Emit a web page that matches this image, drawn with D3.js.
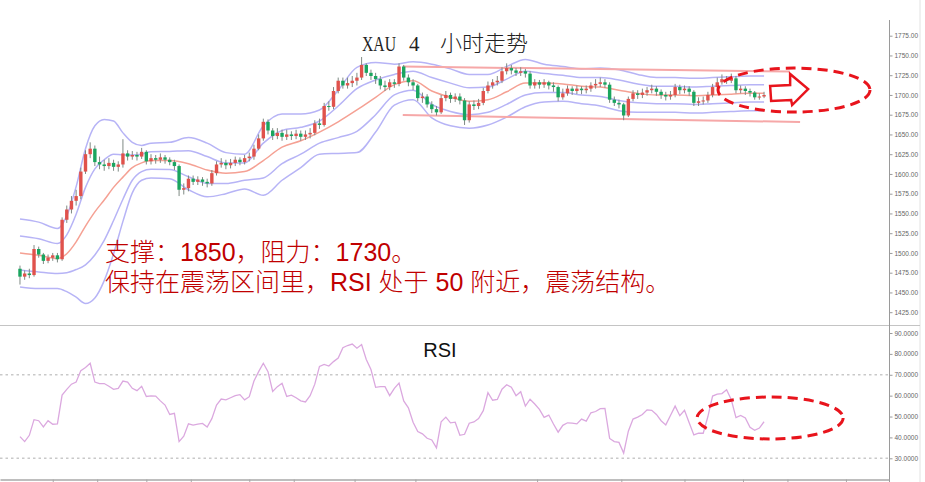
<!DOCTYPE html>
<html><head><meta charset="utf-8">
<script src="https://cdn.jsdelivr.net/npm/d3@7"></script>
<style>body{margin:0;background:#fff}svg{display:block}</style>
</head><body><svg id="c" width="925" height="482"></svg>
<script>
// ---------------- data ----------------
const titleText = ["XAU", "4", "小时走势"];
const rsiLabel = "RSI";
const noteLines = ["支撑：1850，阻力：1730。", "保持在震荡区间里，RSI 处于 50 附近，震荡结构。"];
const firstOpen = 1480;
const closes = [1470,1474,1472,1505,1498,1490,1494,1497,1492,1542,
1555,1566,1572,1603,1625,1632,1615,1612,1610,1614,
1609,1612,1626,1622,1624,1622,1628,1616,1620,1618,
1621,1618,1615,1610,1580,1582,1594,1590,1593,1590,
1588,1601,1612,1614,1611,1614,1618,1615,1620,1622,
1632,1645,1666,1655,1648,1652,1647,1650,1648,1651,
1647,1650,1652,1664,1662,1686,1685,1705,1718,1712,
1715,1718,1722,1738,1728,1724,1720,1712,1710,1716,
1714,1736,1722,1716,1712,1696,1698,1688,1682,1678,
1696,1700,1695,1698,1693,1668,1688,1686,1690,1705,
1712,1716,1718,1730,1734,1731,1728,1730,1727,1712,
1716,1713,1716,1712,1710,1697,1702,1708,1705,1708,
1706,1708,1712,1714,1716,1713,1694,1690,1688,1674,
1695,1702,1700,1703,1706,1708,1704,1700,1698,1700,
1710,1706,1708,1704,1690,1692,1693,1700,1710,1716,
1720,1718,1721,1706,1708,1705,1703,1697,1698,1700];
const highs = [1484,1478,1480,1510,1508,1500,1498,1500,1500,1545,
1560,1572,1580,1608,1630,1640,1636,1622,1618,1620,
1618,1616,1644,1630,1629,1628,1633,1630,1625,1624,
1626,1624,1621,1618,1612,1588,1598,1598,1597,1596,
1594,1605,1616,1620,1618,1619,1622,1621,1624,1627,
1637,1650,1670,1669,1658,1658,1656,1656,1654,1656,
1655,1655,1658,1668,1670,1690,1692,1710,1722,1722,
1722,1724,1728,1748,1740,1732,1728,1724,1718,1720,
1720,1740,1738,1726,1720,1714,1703,1701,1692,1686,
1700,1705,1703,1702,1702,1696,1692,1693,1695,1709,
1717,1720,1724,1735,1740,1738,1734,1735,1733,1730,
1720,1719,1720,1718,1716,1712,1708,1712,1711,1712,
1711,1712,1716,1720,1722,1720,1716,1698,1694,1690,
1698,1706,1706,1708,1710,1713,1711,1707,1704,1705,
1714,1713,1712,1711,1706,1697,1698,1704,1714,1722,
1726,1724,1727,1724,1712,1711,1708,1705,1702,1704];
const lows = [1460,1466,1468,1470,1494,1486,1487,1490,1488,1490,
1538,1550,1560,1568,1600,1620,1610,1606,1604,1606,
1604,1603,1608,1617,1618,1617,1619,1612,1612,1613,
1614,1613,1611,1605,1572,1574,1578,1586,1586,1585,
1583,1585,1598,1608,1606,1607,1610,1611,1612,1616,
1618,1630,1642,1650,1643,1644,1642,1643,1643,1644,
1642,1643,1645,1649,1657,1660,1680,1682,1702,1708,
1708,1710,1712,1719,1724,1719,1714,1707,1705,1706,
1709,1711,1718,1711,1706,1692,1690,1684,1677,1674,
1676,1692,1690,1691,1688,1662,1665,1681,1682,1687,
1702,1708,1712,1715,1726,1726,1724,1724,1722,1708,
1708,1708,1709,1707,1704,1692,1694,1699,1700,1701,
1701,1702,1704,1708,1710,1709,1690,1686,1683,1668,
1672,1692,1695,1696,1699,1702,1699,1695,1693,1694,
1697,1701,1702,1699,1686,1686,1688,1690,1697,1707,
1713,1714,1715,1702,1702,1700,1698,1694,1694,1696];
const rsi = [40.4,38.0,41,48.5,48,45,48,46.3,46.5,60.3,
63,65.5,66.5,72,73.5,75.5,66.5,65.8,65.8,64.5,
63,63.5,67,66.5,63.5,62.4,64.5,59.6,59.9,59.8,
57.5,55.5,51,51.5,38.0,40.6,46.5,45.9,46.4,46.7,
45,49,55.5,58.4,58,59,60,60.5,58,59.5,
67,71.5,75.5,71.5,62,64.3,65.9,59.6,60.2,59,
57.5,57,60,65.5,74,75,74.2,76.3,78,83,
84,84.7,82.7,84.5,77.3,72.5,64,64.3,64.3,60,
63.5,66,57.5,54.2,47.3,42.8,41.7,39.6,38.8,35,
47.5,49.7,47,47.3,41,41.5,46.8,47.4,49,52.8,
61.4,57.8,58.2,63.1,65.2,64,60,61.9,55,58.3,
56,53.4,49.6,50.7,46.4,42.5,45.8,47,46.8,46.5,
48.8,47.8,51.8,52.4,53.8,53.9,39.5,38,37.6,32.5,
43,48.8,49.7,51,53.2,53,51,48,46,50.5,
55,50.4,53,47,41.2,42,42,50,59.8,60.7,
61,62.8,58,49.5,50.5,49.3,44.8,43.4,44.5,47.5];
// Bollinger band (middle line and one standard deviation) read at sampled bars
const bandIdx = [0,4,8,10,12,14,16,18,20,22,24,26,28,32,36,40,44,48,52,56,60,64,68,72,76,80,84,88,92,96,100,104,108,112,116,120,124,128,132,136,140,144,148,152,156,159];
const bandMid = [1500,1497,1493,1499,1514,1534,1552,1567,1583,1596,1608,1614,1617,1617,1613,1605,1601,1603,1617,1634,1642,1653,1666,1681,1697,1713,1718,1705,1697,1692,1694,1704,1715,1715,1714,1711,1710,1706,1702,1700,1700,1699,1700,1701,1702,1702];
const bandSd = [21.5,21,19,24,35,49,54.5,51,42,28,16,11,11,11.5,16.5,17,13,11,22,21,17,14,20,27,22,13,12,17,18,17,16,16,15,12,11,11,12,13,12,11,11,11,11,11,11,11];
// channel lines [startIndex, startPrice, endIndex, endPrice]
const channelUpper = [81.8, 1736, 164.5, 1729.7];
const channelLower = [81.8, 1674.6, 166.7, 1665.7];
const priceTicks = [1425,1450,1475,1500,1525,1550,1575,1600,1625,1650,1675,1700,1725,1750,1775];
const rsiTicks = [30,40,50,60,70,80,90];
const rsiGuides = [70,30];
const dateTicks = [7,16.5,27,36.5,49,58.5,71.5,84.5,110.5,128.5,142,154.5,164,176.5];
// highlight marks: [index, value]
const priceHighlight = [165.4, 1706.2];
const arrowAnchor = [160.3, 1707.5];
const rsiHighlight = [160.3, 49.3];

// ---------------- layout ----------------
const svg = d3.select('#c');
const x = d3.scaleLinear().domain([-4.27, 185.7]).range([0, 889]);
const y = d3.scaleLinear().domain([1425, 1775]).range([312.2, 35.7]);
const yr = d3.scaleLinear().domain([30, 90]).range([458.3, 333]);
const axisX = 889;
const opens = closes.map((c, i) => i === 0 ? firstOpen : closes[i - 1]);

// frame
svg.append('line').attr('x1', 920).attr('x2', 920).attr('y1', 0).attr('y2', 482).attr('stroke', '#e2e2e2');
svg.append('line').attr('x1', 0).attr('x2', 920).attr('y1', 325.5).attr('y2', 325.5).attr('stroke', '#c4c4c4');
svg.append('line').attr('x1', axisX + 0.5).attr('x2', axisX + 0.5).attr('y1', 20).attr('y2', 482).attr('stroke', '#9a9a9a');

// axes
function styleAxis(g) {
  g.select('.domain').remove();
  g.selectAll('line').attr('stroke', '#9a9a9a');
  g.selectAll('text').attr('fill', '#666').style('font-family', 'Liberation Sans, Arial, sans-serif').style('font-size', '6.5px');
}
svg.append('g').attr('transform', `translate(${axisX + 0.5},0)`)
  .call(d3.axisRight(y).tickValues(priceTicks).tickFormat(d3.format('.2f')).tickSize(3).tickPadding(2))
  .call(styleAxis);
svg.append('g').attr('transform', `translate(${axisX + 0.5},0)`)
  .call(d3.axisRight(yr).tickValues(rsiTicks).tickFormat(d3.format('.4f')).tickSize(3).tickPadding(2))
  .call(styleAxis);
const xa = svg.append('g').attr('transform', 'translate(0,479.5)')
  .call(d3.axisBottom(x).tickValues(dateTicks).tickFormat('').tickSize(4).tickSizeOuter(0));
xa.select('.domain').attr('stroke', '#a8a8a8').attr('stroke-width', 1.5);
xa.selectAll('line').attr('stroke', '#a8a8a8');

// ---------------- price panel ----------------
const bandColor = '#b7b4f6';
[2, 1, -1, -2].forEach(k => {
  svg.append('path').datum(bandIdx)
    .attr('d', d3.line().x(d => x(d)).y((d, j) => y(bandMid[j] + k * bandSd[j])).curve(d3.curveMonotoneX))
    .attr('fill', 'none').attr('stroke', bandColor).attr('stroke-width', 1.5);
});
svg.append('path').datum(bandIdx)
  .attr('d', d3.line().x(d => x(d)).y((d, j) => y(bandMid[j])).curve(d3.curveMonotoneX))
  .attr('fill', 'none').attr('stroke', '#f5a194').attr('stroke-width', 1.5);

[channelUpper, channelLower].forEach(c => {
  svg.append('line').attr('x1', x(c[0])).attr('y1', y(c[1])).attr('x2', x(c[2])).attr('y2', y(c[3]))
    .attr('stroke', '#f6a8a8').attr('stroke-width', 2);
});

const candles = svg.append('g');
const bw = 3.4;
closes.forEach((c, i) => {
  const o = opens[i];
  const up = c >= o;
  const col = up ? '#e0524c' : '#1aa55f';
  candles.append('line').attr('x1', x(i)).attr('x2', x(i)).attr('y1', y(highs[i])).attr('y2', y(lows[i]))
    .attr('stroke', '#7f8a84').attr('stroke-width', 1);
  const top = y(Math.max(o, c)), bot = y(Math.min(o, c));
  candles.append('rect').attr('x', x(i) - bw / 2).attr('y', top).attr('width', bw).attr('height', Math.max(1, bot - top))
    .attr('fill', col);
});

// title
const t = svg.append('text').attr('y', 51).attr('fill', '#222').style('font-size', '21px');
t.append('tspan').attr('x', 362).style('font-family', 'Liberation Serif, serif').attr('textLength', 34).attr('lengthAdjust', 'spacingAndGlyphs').text(titleText[0]);
t.append('tspan').attr('x', 409).style('font-family', 'Liberation Serif, serif').text(titleText[1]);
t.append('tspan').attr('x', 440).style('font-family', 'Noto Sans CJK SC, sans-serif').style('font-weight', 300).style('font-size', '22px').text(titleText[2]);

// note
noteLines.forEach((s, k) => {
  svg.append('text').attr('x', 105).attr('y', 261 + k * 30).attr('fill', '#c00000')
    .style('font-family', 'Liberation Sans, Noto Sans CJK SC, sans-serif').style('font-weight', 300)
    .style('font-size', '25px').text(s);
});

// highlight ellipse + arrow
svg.append('ellipse').attr('cx', x(priceHighlight[0])).attr('cy', y(priceHighlight[1])).attr('rx', 76).attr('ry', 22)
  .attr('fill', 'none').attr('stroke', '#e8141c').attr('stroke-width', 3).attr('stroke-dasharray', '10,6');
const ax = x(arrowAnchor[0]), ay = y(arrowAnchor[1]);
const arrowPts = [[0,-3],[20,-4],[20,-15],[38,0],[22,16],[21,11],[1,12]];
svg.append('polygon').attr('points', arrowPts.map(p => [ax + p[0], ay + p[1]].join(',')).join(' '))
  .attr('fill', '#fff').attr('stroke', '#e8141c').attr('stroke-width', 2.5).attr('stroke-linejoin', 'miter');

// ---------------- RSI panel ----------------
rsiGuides.forEach(v => {
  svg.append('line').attr('x1', 0).attr('x2', axisX).attr('y1', yr(v)).attr('y2', yr(v))
    .attr('stroke', '#c9c9c9').attr('stroke-width', 1.5).attr('stroke-dasharray', '2.5,3');
});
svg.append('path').datum(rsi)
  .attr('d', d3.line().x((d, i) => x(i)).y(d => yr(d)))
  .attr('fill', 'none').attr('stroke', '#dba8df').attr('stroke-width', 1.3);
svg.append('text').attr('x', 440).attr('y', 357).attr('text-anchor', 'middle').attr('fill', '#111')
  .style('font-family', 'Liberation Sans, Arial, sans-serif').style('font-size', '20px').text(rsiLabel);
svg.append('ellipse').attr('cx', x(rsiHighlight[0])).attr('cy', yr(rsiHighlight[1])).attr('rx', 73).attr('ry', 21)
  .attr('fill', 'none').attr('stroke', '#e8141c').attr('stroke-width', 3).attr('stroke-dasharray', '10,6');
</script></body></html>
